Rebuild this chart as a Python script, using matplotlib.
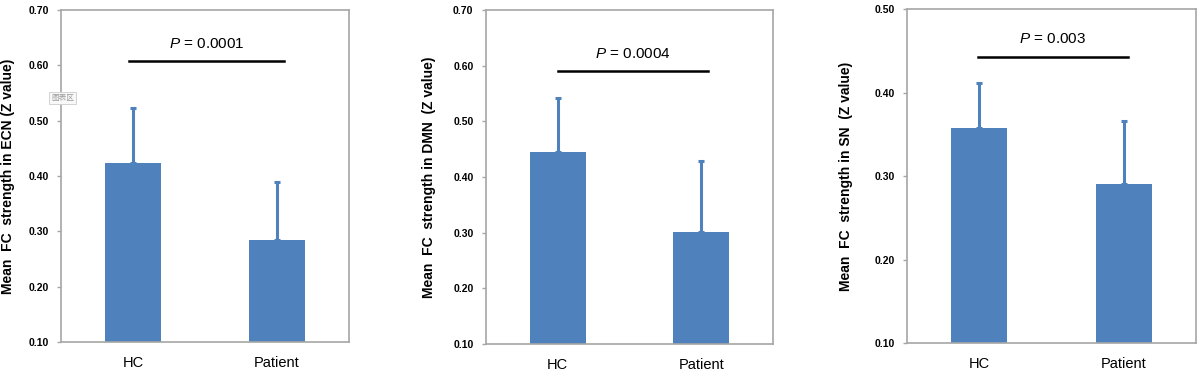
import numpy as np
import matplotlib
matplotlib.use('Agg')
import matplotlib.pyplot as plt

plt.rcParams['font.family'] = ['Liberation Sans', 'DejaVu Sans']
plt.rcParams['mathtext.fontset'] = 'custom'
plt.rcParams['mathtext.it'] = 'Liberation Sans:italic'
plt.rcParams['mathtext.rm'] = 'Liberation Sans'

# data
groups = ['HC', 'Patient']
networks = ['ECN', 'DMN', 'SN']
ylabels = ['Mean  FC  strength in ECN (Z value)',
           'Mean  FC  strength in DMN  (Z value)',
           'Mean  FC  strength in SN  (Z value)']
means = [[0.423, 0.284], [0.445, 0.301], [0.357, 0.290]]
sds = [[0.100, 0.105], [0.097, 0.128], [0.054, 0.076]]
pvals = ['0.0001', '0.0004', '0.003']
ylims = [(0.10, 0.70), (0.10, 0.70), (0.10, 0.50)]
sig_y = [0.608, 0.590, 0.4425]
sig_x = [(-0.03, 1.05), (0.0, 1.045), (-0.01, 1.03)]
ptext_y = [0.638, 0.621, 0.464]

bar_color = '#4F81BD'
spine_color = '#A6A6A6'

fig = plt.figure(figsize=(11.99, 3.73), dpi=100)
positions = [[0.0509, 0.0831, 0.2402, 0.890],
             [0.4053, 0.0777, 0.2394, 0.8954],
             [0.7565, 0.0804, 0.2410, 0.8954]]
label_x = [-0.16, -0.174, -0.187]

for i in range(3):
    ax = fig.add_axes(positions[i])
    x = np.arange(len(groups))
    ax.bar(x, means[i], width=0.39, color=bar_color, zorder=2)
    ax.errorbar(x, means[i], yerr=[np.zeros(2), sds[i]], fmt='none',
                ecolor=bar_color, elinewidth=2.2, capsize=2.5, capthick=2.2, zorder=1)
    ax.set_xlim(-0.5, 1.5)
    ax.set_ylim(*ylims[i])
    ticks = np.arange(ylims[i][0], ylims[i][1] + 0.001, 0.1)
    ax.set_yticks(ticks)
    ax.set_yticklabels(['%.2f' % v for v in ticks], fontweight='bold', fontsize=7.5)
    ax.set_xticks(x)
    ax.set_xticklabels(groups, fontsize=10.5)
    ax.tick_params(axis='x', length=0, pad=10)
    ax.tick_params(axis='y', length=3, width=1, color=spine_color, pad=6)
    for s in ax.spines.values():
        s.set_color(spine_color)
        s.set_linewidth(1.2)
    ax.set_ylabel(ylabels[i], fontsize=10, fontweight='bold')
    ax.yaxis.set_label_coords(label_x[i], 0.5)

    ax.plot(sig_x[i], [sig_y[i], sig_y[i]], color='black', lw=1.8)
    ax.text(np.mean(sig_x[i]), ptext_y[i], r'$P$ = ' + pvals[i], fontsize=11,
            ha='center', va='center')

    if i == 0:
        fig.text(0.0425, 0.737, '图表区', fontsize=5.5, color='#999999',
                 family=['Noto Sans CJK SC', 'DejaVu Sans'], va='center',
                 bbox=dict(boxstyle='square,pad=0.3', fc='#f8f8f8', ec='#cccccc', lw=0.6))

fig.savefig('out.png', dpi=100)
